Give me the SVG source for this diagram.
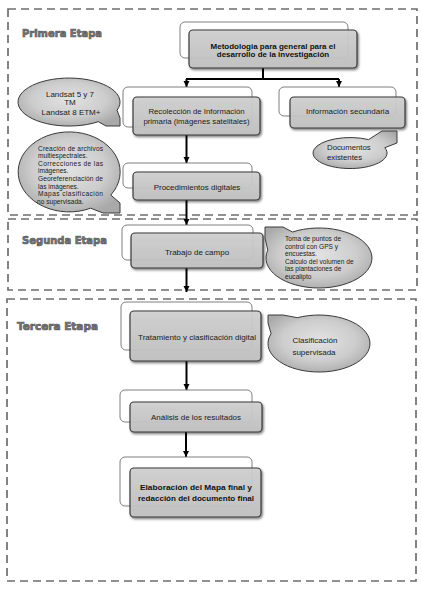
<svg xmlns="http://www.w3.org/2000/svg" width="422" height="589" viewBox="0 0 422 589">
<defs>
<style>
.frame{fill:none;stroke:#6e6e6e;stroke-width:1.7;stroke-dasharray:8 5}
.back{fill:#fff;stroke:#707070;stroke-width:0.9}
.front{fill:url(#gFront);fill-opacity:0.9;stroke:#3a3a3a;stroke-width:1.2;filter:url(#sh)}
.bub{fill:url(#gBub);stroke:#3a3a3a;stroke-width:1}
.t{font-family:"Liberation Sans",Arial,sans-serif;fill:#1a1a1a;text-anchor:middle}
.tb{font-family:"Liberation Sans",Arial,sans-serif;fill:#111;font-weight:bold;text-anchor:middle}
.ts{font-family:"Liberation Sans",Arial,sans-serif;fill:#1a1a1a}
.title{font-family:"DejaVu Sans",Verdana,sans-serif;font-weight:bold;font-size:11px;fill:#777;stroke:#5a5a5a;stroke-width:0.7}
.conn{stroke:#000;stroke-width:2;fill:none}
</style>
<linearGradient id="gFront" x1="0" y1="0" x2="0" y2="1">
<stop offset="0" stop-color="#d2d2d2"/>
<stop offset="1" stop-color="#c2c2c2"/>
</linearGradient>
<radialGradient id="gBub" cx="0.5" cy="0.45" r="0.6">
<stop offset="0" stop-color="#e2e2e2"/>
<stop offset="0.6" stop-color="#cdcdcd"/>
<stop offset="1" stop-color="#a9a9a9"/>
</radialGradient>
<filter id="sh" x="-10%" y="-10%" width="125%" height="135%">
<feDropShadow dx="1.2" dy="1.6" stdDeviation="0.9" flood-color="#000" flood-opacity="0.55"/>
</filter>
<marker id="ah" viewBox="0 0 10 10" refX="10" refY="5" markerWidth="3.2" markerHeight="3.6" orient="auto" markerUnits="strokeWidth">
<path d="M0,0 L10,5 L0,10 Z" fill="#000"/>
</marker>
</defs>

<g id="frames">
<rect class="frame" x="8" y="9" width="409" height="206"/>
<rect class="frame" x="8" y="219" width="409" height="71"/>
<rect class="frame" x="7" y="299" width="409" height="282"/>
</g>

<g id="titles">
<text class="title" x="22" y="37" textLength="80" lengthAdjust="spacingAndGlyphs">Primera Etapa</text>
<text class="title" x="22" y="244" textLength="85" lengthAdjust="spacingAndGlyphs">Segunda Etapa</text>
<text class="title" x="17" y="330" textLength="81" lengthAdjust="spacingAndGlyphs">Tercera Etapa</text>
</g>

<g id="connectors">
<path class="conn" d="M263,68 V79" stroke-width="2.4"/>
<path class="conn" d="M186,79 H339" stroke-width="2.4"/>
<path class="conn" d="M186.5,79 V87" marker-end="url(#ah)"/>
<path class="conn" d="M339,79 V87" marker-end="url(#ah)"/>
<path class="conn" d="M186.5,135 V163" marker-end="url(#ah)"/>
<path class="conn" d="M186.5,200 V225" marker-end="url(#ah)"/>
<path class="conn" d="M186.5,268 V292" marker-end="url(#ah)"/>
<path class="conn" d="M186.5,361 V390" marker-end="url(#ah)"/>
<path class="conn" d="M186,432 V457" marker-end="url(#ah)"/>
</g>

<g id="n1">
<rect class="back" x="180" y="22" width="168" height="36" rx="5"/>
<rect class="front" x="189" y="30" width="168" height="38" rx="4"/>
<text class="tb" font-size="8" x="273" y="48.5">Metodologia para general para el</text>
<text class="tb" font-size="8" x="273" y="57">desarrollo de la investigación</text>
</g>

<g id="n2">
<rect class="back" x="123" y="87" width="129" height="40" rx="5"/>
<rect class="front" x="133" y="97" width="127" height="38" rx="4"/>
<text class="t" font-size="7.8" x="196.5" y="114">Recolección de Información</text>
<text class="t" font-size="7.8" x="196.5" y="123.5">primaria (imágenes satelitales)</text>
</g>

<g id="n3">
<rect class="back" x="279" y="87" width="117" height="29" rx="5"/>
<rect class="front" x="290" y="97" width="115" height="31" rx="4"/>
<text class="t" font-size="8" x="347.5" y="114">Información secundaria</text>
</g>

<g id="n4">
<rect class="back" x="123" y="163" width="129" height="25" rx="5"/>
<rect class="front" x="133" y="172" width="127" height="28" rx="4"/>
<text class="t" font-size="8" x="197" y="189.5">Procedimientos digitales</text>
</g>

<g id="n5">
<rect class="back" x="122" y="225" width="131" height="35" rx="5"/>
<rect class="front" x="131" y="233" width="132" height="35" rx="4"/>
<text class="t" font-size="8" x="197" y="255">Trabajo de campo</text>
</g>

<g id="n6">
<rect class="back" x="121" y="302" width="131" height="48" rx="5"/>
<rect class="front" x="130" y="311" width="131" height="50" rx="4"/>
<text class="t" font-size="8" x="197" y="340" textLength="118" lengthAdjust="spacingAndGlyphs">Tratamiento  y clasificación digital</text>
</g>

<g id="n7">
<rect class="back" x="120" y="390" width="132" height="32" rx="5"/>
<rect class="front" x="130" y="402" width="132" height="30" rx="4"/>
<text class="t" font-size="8" x="196" y="420" textLength="90" lengthAdjust="spacingAndGlyphs">Análisis de los resultados</text>
</g>

<g id="n8">
<rect class="back" x="120" y="457" width="132" height="49" rx="5"/>
<rect class="front" x="130" y="468" width="131" height="49" rx="4"/>
<text class="tb" font-size="8" x="196" y="490" textLength="112" lengthAdjust="spacingAndGlyphs">Elaboración  del Mapa final y</text>
<text class="tb" font-size="8" x="196" y="501" textLength="116" lengthAdjust="spacingAndGlyphs">redacción del documento final</text>
</g>

<g id="b1">
<path class="bub" d="M117,110.2 L120,118 L120,126 L106,126 L98.3,121.7 A51,24 0 1 1 117,110.2 Z"/>
<text class="t" font-size="8" x="70" y="96.5">Landsat 5 y 7</text>
<text class="t" font-size="8" x="70" y="105">TM</text>
<text class="t" font-size="8" x="71" y="114.5">Landsat 8 ETM+</text>
</g>

<g id="b2">
<path class="bub" d="M110.8,195 L120,203 L120,213 L103,213 L90.6,208.2 A51,40 0 1 1 110.8,195 Z"/>
<g class="ts" font-size="6.6">
<text x="38" y="150.5" textLength="65" lengthAdjust="spacing">Creación de archivos</text>
<text x="38" y="158.1">multiespectrales.</text>
<text x="38" y="165.7" textLength="65" lengthAdjust="spacing">Correcciones de las</text>
<text x="38" y="173.4">imágenes.</text>
<text x="38" y="181" textLength="65" lengthAdjust="spacing">Georeferenciación de</text>
<text x="38" y="188.6">las imágenes.</text>
<text x="38" y="196.3" textLength="65" lengthAdjust="spacing">Mapas clasificación</text>
<text x="37" y="203.9">no supervisada.</text>
</g>
</g>

<g id="b3">
<path class="bub" d="M384.8,147.7 L397,143 L397,131 L382,131 L368.5,139.6 A37,15.5 0 1 0 384.8,147.7 Z"/>
<text class="ts" font-size="7.8" x="327" y="150">Documentos</text>
<text class="ts" font-size="7.8" x="327" y="159.5">existentes</text>
</g>

<g id="b4">
<path class="bub" d="M292.5,232 L283,227 L265,227 L265,238 L267.8,250.2 A53,30 0 1 0 292.5,232 Z"/>
<g class="ts" font-size="6.6">
<text x="285" y="241">Toma de puntos de</text>
<text x="285" y="248.6">control con GPS y</text>
<text x="285" y="256.2">encuestas.</text>
<text x="285" y="263.8">Calculo del volumen de</text>
<text x="285" y="271.4">las plantaciones de</text>
<text x="285" y="279">eucalipto</text>
</g>
</g>

<g id="b5">
<path class="bub" d="M297.4,317.7 L283,315 L268,315 L268,323 L271.1,333.7 A51,28.5 0 1 0 297.4,317.7 Z"/>
<text class="t" font-size="8" x="315" y="343">Clasificación</text>
<text class="t" font-size="8" x="314" y="355">supervisada</text>
</g>
</svg>
